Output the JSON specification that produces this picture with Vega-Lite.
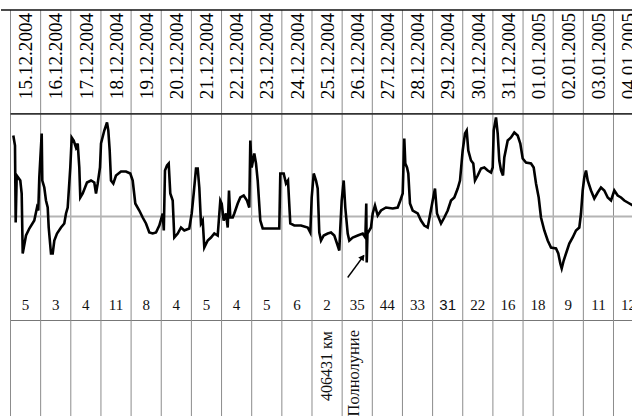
{
"$schema": "https://vega.github.io/schema/vega-lite/v6.json",
"background": "white",
"padding": {"left": 0, "top": 9, "right": 0, "bottom": 0},
"spacing": 0,
"bounds": "flush",
"config": {"view": {"stroke": null}, "concat": {"spacing": 0}},
"datasets": {
"days": [
{"day":0,"date":"15.12.2004","n":5},{"day":1,"date":"16.12.2004","n":3},{"day":2,"date":"17.12.2004","n":4},{"day":3,"date":"18.12.2004","n":11},{"day":4,"date":"19.12.2004","n":8},{"day":5,"date":"20.12.2004","n":4},{"day":6,"date":"21.12.2004","n":5},{"day":7,"date":"22.12.2004","n":4},{"day":8,"date":"23.12.2004","n":5},{"day":9,"date":"24.12.2004","n":6},{"day":10,"date":"25.12.2004","n":2},{"day":11,"date":"26.12.2004","n":35},{"day":12,"date":"27.12.2004","n":44},{"day":13,"date":"28.12.2004","n":33},{"day":14,"date":"29.12.2004","n":31},{"day":15,"date":"30.12.2004","n":22},{"day":16,"date":"31.12.2004","n":16},{"day":17,"date":"01.01.2005","n":18},{"day":18,"date":"02.01.2005","n":9},{"day":19,"date":"03.01.2005","n":11},{"day":20,"date":"04.01.2005","n":12}
],
"notes": [{"day":10,"note":"406431 км"},{"day":11,"note":"Полнолуние"}],
"arrow": [{"t":11.184,"v":-61,"t2":11.72,"v2":-39}],
"arrowhead": [{"t":11.68,"v":-40.5}],
"series": [
{"t":0.093,"v":81},{"t":0.149,"v":71},{"t":0.172,"v":-6},{"t":0.206,"v":41},{"t":0.325,"v":36},{"t":0.371,"v":23},{"t":0.405,"v":-37},{"t":0.514,"v":-19},{"t":0.624,"v":-12},{"t":0.789,"v":-4},{"t":0.879,"v":9},{"t":0.922,"v":6},{"t":0.955,"v":39},{"t":1.035,"v":83},{"t":1.055,"v":36},{"t":1.121,"v":29},{"t":1.177,"v":16},{"t":1.234,"v":9},{"t":1.267,"v":-11},{"t":1.343,"v":-37},{"t":1.4,"v":-37},{"t":1.453,"v":-24},{"t":1.542,"v":-17},{"t":1.675,"v":-11},{"t":1.784,"v":-7},{"t":1.841,"v":3},{"t":1.897,"v":9},{"t":1.983,"v":49},{"t":2.03,"v":79},{"t":2.096,"v":76},{"t":2.172,"v":69},{"t":2.229,"v":73},{"t":2.282,"v":49},{"t":2.315,"v":19},{"t":2.395,"v":23},{"t":2.537,"v":34},{"t":2.67,"v":36},{"t":2.779,"v":34},{"t":2.836,"v":23},{"t":2.892,"v":33},{"t":2.968,"v":49},{"t":3.002,"v":73},{"t":3.111,"v":86},{"t":3.201,"v":94},{"t":3.244,"v":86},{"t":3.29,"v":66},{"t":3.333,"v":36},{"t":3.41,"v":33},{"t":3.499,"v":41},{"t":3.665,"v":45},{"t":3.831,"v":45},{"t":3.973,"v":43},{"t":4.053,"v":36},{"t":4.139,"v":13},{"t":4.272,"v":6},{"t":4.385,"v":-1},{"t":4.494,"v":-7},{"t":4.604,"v":-16},{"t":4.716,"v":-17},{"t":4.826,"v":-16},{"t":4.935,"v":-9},{"t":5.048,"v":3},{"t":5.085,"v":-14},{"t":5.124,"v":46},{"t":5.191,"v":51},{"t":5.247,"v":53},{"t":5.3,"v":23},{"t":5.38,"v":16},{"t":5.433,"v":-21},{"t":5.546,"v":-17},{"t":5.655,"v":-11},{"t":5.765,"v":-14},{"t":5.93,"v":-12},{"t":6.01,"v":3},{"t":6.076,"v":23},{"t":6.153,"v":48},{"t":6.209,"v":48},{"t":6.262,"v":29},{"t":6.318,"v":-7},{"t":6.375,"v":-4},{"t":6.428,"v":-31},{"t":6.541,"v":-24},{"t":6.65,"v":-21},{"t":6.76,"v":-17},{"t":6.872,"v":-19},{"t":6.959,"v":16},{"t":7.005,"v":13},{"t":7.071,"v":-4},{"t":7.148,"v":3},{"t":7.204,"v":-11},{"t":7.247,"v":26},{"t":7.29,"v":-1},{"t":7.37,"v":-1},{"t":7.423,"v":3},{"t":7.536,"v":13},{"t":7.622,"v":19},{"t":7.735,"v":21},{"t":7.844,"v":16},{"t":7.92,"v":9},{"t":7.954,"v":76},{"t":8.0,"v":49},{"t":8.086,"v":63},{"t":8.143,"v":53},{"t":8.199,"v":36},{"t":8.285,"v":-4},{"t":8.365,"v":-12},{"t":8.531,"v":-12},{"t":8.75,"v":-12},{"t":8.915,"v":-12},{"t":8.949,"v":43},{"t":9.061,"v":43},{"t":9.138,"v":33},{"t":9.204,"v":36},{"t":9.28,"v":-7},{"t":9.413,"v":-9},{"t":9.635,"v":-9},{"t":9.857,"v":-11},{"t":9.944,"v":-16},{"t":9.99,"v":19},{"t":10.057,"v":43},{"t":10.133,"v":36},{"t":10.189,"v":28},{"t":10.242,"v":-16},{"t":10.299,"v":-24},{"t":10.388,"v":-19},{"t":10.521,"v":-17},{"t":10.63,"v":-16},{"t":10.74,"v":-19},{"t":10.829,"v":-27},{"t":10.905,"v":-34},{"t":10.939,"v":-11},{"t":10.985,"v":16},{"t":11.051,"v":36},{"t":11.104,"v":9},{"t":11.184,"v":-17},{"t":11.237,"v":-24},{"t":11.35,"v":-21},{"t":11.516,"v":-19},{"t":11.682,"v":-17},{"t":11.77,"v":-21},{"t":11.8,"v":13},{"t":11.815,"v":-46},{"t":11.84,"v":-17},{"t":11.957,"v":-11},{"t":12.013,"v":3},{"t":12.089,"v":11},{"t":12.179,"v":1},{"t":12.289,"v":6},{"t":12.454,"v":9},{"t":12.677,"v":8},{"t":12.842,"v":9},{"t":12.929,"v":16},{"t":13.008,"v":23},{"t":13.061,"v":78},{"t":13.095,"v":53},{"t":13.151,"v":49},{"t":13.194,"v":43},{"t":13.25,"v":13},{"t":13.34,"v":6},{"t":13.506,"v":3},{"t":13.615,"v":-4},{"t":13.725,"v":-9},{"t":13.837,"v":-11},{"t":13.923,"v":3},{"t":14.003,"v":16},{"t":14.079,"v":28},{"t":14.146,"v":3},{"t":14.279,"v":-7},{"t":14.388,"v":-1},{"t":14.501,"v":6},{"t":14.61,"v":16},{"t":14.72,"v":19},{"t":14.833,"v":28},{"t":14.909,"v":36},{"t":14.998,"v":66},{"t":15.075,"v":83},{"t":15.131,"v":86},{"t":15.184,"v":66},{"t":15.274,"v":56},{"t":15.35,"v":53},{"t":15.406,"v":36},{"t":15.496,"v":41},{"t":15.605,"v":48},{"t":15.715,"v":49},{"t":15.828,"v":46},{"t":15.937,"v":44},{"t":15.993,"v":49},{"t":16.027,"v":86},{"t":16.103,"v":99},{"t":16.159,"v":83},{"t":16.212,"v":56},{"t":16.269,"v":46},{"t":16.335,"v":41},{"t":16.378,"v":59},{"t":16.491,"v":76},{"t":16.6,"v":79},{"t":16.71,"v":84},{"t":16.822,"v":81},{"t":16.909,"v":73},{"t":16.988,"v":58},{"t":17.098,"v":54},{"t":17.264,"v":53},{"t":17.353,"v":49},{"t":17.43,"v":33},{"t":17.519,"v":19},{"t":17.595,"v":-1},{"t":17.705,"v":-14},{"t":17.818,"v":-24},{"t":17.927,"v":-31},{"t":18.093,"v":-32},{"t":18.169,"v":-37},{"t":18.236,"v":-47},{"t":18.282,"v":-52},{"t":18.348,"v":-44},{"t":18.425,"v":-37},{"t":18.534,"v":-27},{"t":18.647,"v":-21},{"t":18.756,"v":-14},{"t":18.866,"v":-11},{"t":18.922,"v":3},{"t":18.978,"v":26},{"t":19.031,"v":39},{"t":19.088,"v":46},{"t":19.144,"v":36},{"t":19.254,"v":26},{"t":19.363,"v":18},{"t":19.476,"v":24},{"t":19.585,"v":29},{"t":19.695,"v":26},{"t":19.808,"v":19},{"t":19.917,"v":16},{"t":20.027,"v":26},{"t":20.139,"v":21},{"t":20.249,"v":19},{"t":20.358,"v":16},{"t":20.471,"v":14},{"t":20.637,"v":11}
]
},
"vconcat": [
{
"width": 632, "height": 103,
"layer": [
{"data": {"name": "days"}, "mark": {"type": "rule", "color": "#8c8c8c", "strokeWidth": 1},
 "encoding": {"x": {"field": "day", "type": "quantitative", "scale": {"domain": [-0.3151, 20.6468], "nice": false, "zero": false}, "axis": null}}},
{"data": {"values": [{"border": "header-top"}]}, "mark": {"type": "rule", "color": "#111111", "strokeWidth": 1.6},
 "encoding": {"y": {"datum": 103, "type": "quantitative", "scale": {"domain": [-0.5, 103], "nice": false, "zero": false}, "axis": null}}},
{"data": {"name": "days"}, "mark": {"type": "text", "angle": 270, "align": "center", "baseline": "middle", "font": "Liberation Serif", "fontSize": 19.2, "color": "#000000", "dx": 5.5, "dy": 15.8},
 "encoding": {"x": {"field": "day", "type": "quantitative", "scale": {"domain": [-0.3151, 20.6468], "nice": false, "zero": false}, "axis": null}, "text": {"field": "date"}}}
]
},
{
"width": 632, "height": 176,
"layer": [
{"data": {"name": "days"}, "mark": {"type": "rule", "color": "#8c8c8c", "strokeWidth": 1},
 "encoding": {"x": {"field": "day", "type": "quantitative", "scale": {"domain": [-0.3151, 20.6468], "nice": false, "zero": false}, "axis": null}}},
{"data": {"values": [{"border": "plot-top"}]}, "mark": {"type": "rule", "color": "#333333", "strokeWidth": 1.6},
 "encoding": {"x": {"datum": 0, "type": "quantitative", "scale": {"domain": [-0.3151, 20.6468], "nice": false, "zero": false}, "axis": null}, "x2": {"datum": 20.6468},
  "y": {"datum": 102.6, "type": "quantitative", "scale": {"domain": [-72.5, 103.5], "nice": false, "zero": false}, "axis": null}}},
{"data": {"values": [{"border": "zero"}]}, "mark": {"type": "rule", "color": "#b4b4b4", "strokeWidth": 2},
 "encoding": {"x": {"datum": 0, "type": "quantitative", "scale": {"domain": [-0.3151, 20.6468], "nice": false, "zero": false}, "axis": null}, "x2": {"datum": 20.6468},
  "y": {"datum": 0, "type": "quantitative", "scale": {"domain": [-72.5, 103.5], "nice": false, "zero": false}, "axis": null}}},
{"data": {"name": "series"}, "mark": {"type": "line", "color": "#000000", "strokeWidth": 2.6, "strokeJoin": "miter"},
 "encoding": {"x": {"field": "t", "type": "quantitative", "scale": {"domain": [-0.3151, 20.6468], "nice": false, "zero": false}, "axis": null},
  "y": {"field": "v", "type": "quantitative", "scale": {"domain": [-72.5, 103.5], "nice": false, "zero": false}, "axis": null}}},
{"data": {"name": "arrow"}, "mark": {"type": "rule", "color": "#000000", "strokeWidth": 1.4},
 "encoding": {"x": {"field": "t", "type": "quantitative", "scale": {"domain": [-0.3151, 20.6468], "nice": false, "zero": false}, "axis": null}, "x2": {"field": "t2"},
  "y": {"field": "v", "type": "quantitative", "scale": {"domain": [-72.5, 103.5], "nice": false, "zero": false}, "axis": null}, "y2": {"field": "v2"}}},
{"data": {"name": "arrowhead"}, "mark": {"type": "point", "shape": "triangle-up", "filled": true, "color": "#000000", "size": 45, "angle": 36, "opacity": 1},
 "encoding": {"x": {"field": "t", "type": "quantitative", "scale": {"domain": [-0.3151, 20.6468], "nice": false, "zero": false}, "axis": null},
  "y": {"field": "v", "type": "quantitative", "scale": {"domain": [-72.5, 103.5], "nice": false, "zero": false}, "axis": null}}}
]
},
{
"width": 632, "height": 31,
"layer": [
{"data": {"name": "days"}, "mark": {"type": "rule", "color": "#8c8c8c", "strokeWidth": 1},
 "encoding": {"x": {"field": "day", "type": "quantitative", "scale": {"domain": [-0.3151, 20.6468], "nice": false, "zero": false}, "axis": null}}},
{"data": {"values": [{"border": "numbers-bottom"}]}, "mark": {"type": "rule", "color": "#777777", "strokeWidth": 1},
 "encoding": {"x": {"datum": 0, "type": "quantitative", "scale": {"domain": [-0.3151, 20.6468], "nice": false, "zero": false}, "axis": null}, "x2": {"datum": 20.6468},
  "y": {"datum": -0.5, "type": "quantitative", "scale": {"domain": [0, 31], "nice": false, "zero": false}, "axis": null}}},
{"data": {"name": "days"}, "transform": [{"filter": "datum.day != 14"}],
 "mark": {"type": "text", "align": "center", "baseline": "middle", "font": "Liberation Serif", "fontSize": 15, "color": "#111111", "dx": 15.07},
 "encoding": {"x": {"field": "day", "type": "quantitative", "scale": {"domain": [-0.3151, 20.6468], "nice": false, "zero": false}, "axis": null}, "text": {"field": "n"}}},
{"data": {"name": "days"}, "transform": [{"filter": "datum.day == 14"}],
 "mark": {"type": "text", "align": "center", "baseline": "middle", "font": "Liberation Sans", "fontSize": 15, "color": "#111111", "dx": 15.07},
 "encoding": {"x": {"field": "day", "type": "quantitative", "scale": {"domain": [-0.3151, 20.6468], "nice": false, "zero": false}, "axis": null}, "text": {"field": "n"}}}
]
},
{
"width": 632, "height": 97,
"layer": [
{"data": {"name": "days"}, "mark": {"type": "rule", "color": "#8c8c8c", "strokeWidth": 1},
 "encoding": {"x": {"field": "day", "type": "quantitative", "scale": {"domain": [-0.3151, 20.6468], "nice": false, "zero": false}, "axis": null}}},
{"data": {"name": "notes"}, "transform": [{"filter": "datum.day == 10"}],
 "mark": {"type": "text", "angle": 270, "align": "right", "baseline": "middle", "font": "Liberation Serif", "fontSize": 16, "color": "#111111", "dx": 37.5, "dy": 15.07},
 "encoding": {"x": {"field": "day", "type": "quantitative", "scale": {"domain": [-0.3151, 20.6468], "nice": false, "zero": false}, "axis": null}, "text": {"field": "note"}}},
{"data": {"name": "notes"}, "transform": [{"filter": "datum.day == 11"}],
 "mark": {"type": "text", "angle": 270, "align": "right", "baseline": "middle", "font": "Liberation Serif", "fontSize": 16.5, "color": "#111111", "dx": 38.5, "dy": 11.5},
 "encoding": {"x": {"field": "day", "type": "quantitative", "scale": {"domain": [-0.3151, 20.6468], "nice": false, "zero": false}, "axis": null}, "text": {"field": "note"}}}
]
}
]
}
